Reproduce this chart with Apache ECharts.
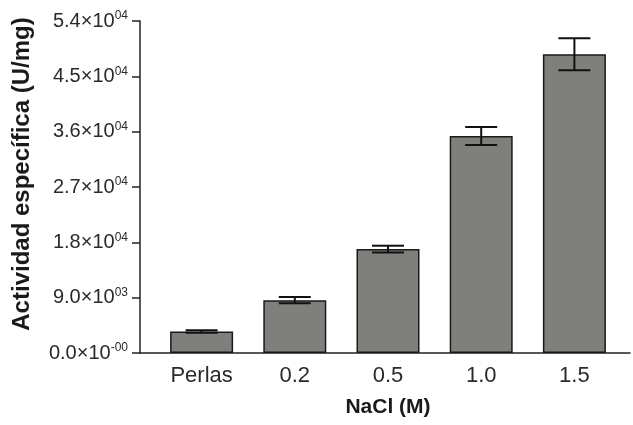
<!DOCTYPE html>
<html><head><meta charset="utf-8">
<script src="https://cdn.jsdelivr.net/npm/echarts@6/dist/echarts.min.js"></script>
<style>html,body{margin:0;padding:0;background:#fff}#c{width:633px;height:425px}</style>
</head><body><div id="c"></div>
<script>
var categories = ['Perlas', '0.2', '0.5', '1.0', '1.5'];
var means = [3500, 8600, 16900, 35300, 48600];
var errors = [200, 500, 550, 1450, 2600];
var yTicks = [0, 9000, 18000, 27000, 36000, 45000, 54000];
var yTickMantissa = ['0.0', '9.0', '1.8', '2.7', '3.6', '4.5', '5.4'];
var yTickExponent = ['-00', '03', '04', '04', '04', '04', '04'];

var chart = echarts.init(document.getElementById('c'));
var font = 'Liberation Sans, Arial, sans-serif';
chart.setOption({
  animation: false,
  grid: [
    {left: 155, right: 12, top: 21, bottom: 72},
    {left: 140, right: 3, top: 21, bottom: 72}
  ],
  xAxis: [
    {type: 'category', gridIndex: 0, data: categories,
     axisLine: {show: false}, axisTick: {show: false},
     axisLabel: {fontFamily: font, fontSize: 22, color: '#2a2a2a', margin: 12},
     name: 'NaCl (M)', nameLocation: 'middle', nameGap: 44,
     nameTextStyle: {fontFamily: font, fontSize: 21, fontWeight: 'bold', color: '#1a1a1a'}},
    {type: 'value', gridIndex: 1, min: 0, max: 1,
     axisLine: {show: true, lineStyle: {color: '#222', width: 1.5}},
     axisTick: {show: false}, axisLabel: {show: false}, splitLine: {show: false}}
  ],
  yAxis: [
    {type: 'value', gridIndex: 0, min: 0, max: 54000, interval: 9000, offset: 15,
     axisLine: {show: true, lineStyle: {color: '#222', width: 1.5}},
     axisTick: {show: true, length: 8, lineStyle: {color: '#222', width: 1.5}},
     splitLine: {show: false},
     axisLabel: {margin: 12,
       formatter: function (v) {
         var i = yTicks.indexOf(v);
         return '{m|' + yTickMantissa[i] + '×10}{e|' + yTickExponent[i] + '}';
       },
       rich: {
         m: {fontFamily: font, fontSize: 20, color: '#2a2a2a'},
         e: {fontFamily: font, fontSize: 12, color: '#2a2a2a', padding: [0, 0, 10, 0]}
       }},
     name: 'Actividad específica (U/mg)', nameLocation: 'middle', nameGap: 106,
     nameTextStyle: {fontFamily: font, fontSize: 24, fontWeight: 'bold', color: '#1a1a1a', padding: [0, 0, 0, 26]}},
    {type: 'value', gridIndex: 1, show: false}
  ],
  series: [
    {type: 'bar', xAxisIndex: 0, yAxisIndex: 0, data: means, barWidth: 63,
     itemStyle: {color: '#7f7f7c', borderColor: '#1a1a1a', borderWidth: 1.5}},
    {type: 'custom', xAxisIndex: 0, yAxisIndex: 0, z: 10,
     data: means.map(function (m, i) { return [i, m - errors[i], m + errors[i]]; }),
     renderItem: function (params, api) {
       var lo = api.coord([api.value(0), api.value(1)]);
       var hi = api.coord([api.value(0), api.value(2)]);
       var hw = 16;
       var st = {stroke: '#111', lineWidth: 2};
       return {type: 'group', children: [
         {type: 'line', shape: {x1: hi[0], y1: hi[1], x2: lo[0], y2: lo[1]}, style: st},
         {type: 'line', shape: {x1: hi[0] - hw, y1: hi[1], x2: hi[0] + hw, y2: hi[1]}, style: st},
         {type: 'line', shape: {x1: lo[0] - hw, y1: lo[1], x2: lo[0] + hw, y2: lo[1]}, style: st}
       ]};
     }}
  ]
});
</script></body></html>
